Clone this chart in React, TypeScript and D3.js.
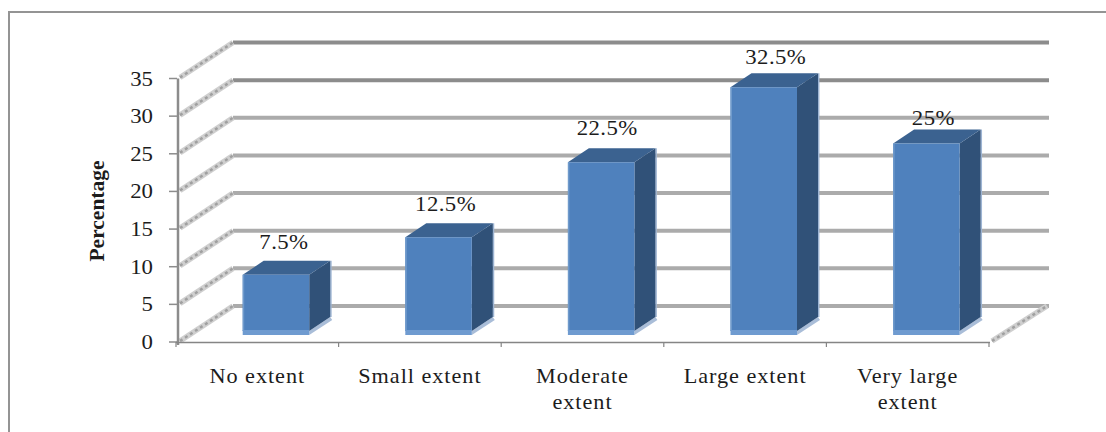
import React from "react";
import * as d3 from "d3";

const categories = [["No extent"], ["Small extent"], ["Moderate", "extent"], ["Large extent"], ["Very large", "extent"]];
const percentages = [7.5, 12.5, 22.5, 32.5, 25];
const valueLabels = ["7.5%", "12.5%", "22.5%", "32.5%", "25%"];
const axisTicks = [0, 5, 10, 15, 20, 25, 30, 35];

const WIDTH = 1106;
const HEIGHT = 432;
const SERIF = '"Liberation Serif", "Times New Roman", serif';
const TEXT_STRETCH = 1.06;

// 3-D projection of the chart box: how far the back wall sits from the front plane.
const WALL_DX = 55;
const WALL_DY = -36;
const BAR_DX = 21;
const BAR_DY = -14;
const BAR_WIDTH = 66.5;
const BAR_LEFT_INSET = 66.7;

const y = d3.scaleLinear().domain([0, 35]).range([342, 78.5]);
const barY = d3.scaleLinear().domain([0, 35]).range([331, 68.5]);
const x = d3
  .scaleBand<number>()
  .domain(categories.map((_, i) => i))
  .range([176, 989]);

const poly = (pts: [number, number][]) => (d3.line()(pts) as string) + "Z";

function StretchedText(props: {
  x: number;
  y: number;
  size?: number;
  anchor?: string;
  spacing?: number;
  children: React.ReactNode;
}) {
  const { size = 21.5, anchor = "middle", spacing = 0, children } = props;
  return (
    <text
      transform={`translate(${props.x},${props.y}) scale(${TEXT_STRETCH},1)`}
      fontFamily={SERIF}
      fontSize={size}
      textAnchor={anchor}
      letterSpacing={spacing}
      fill="#1c1c1c"
    >
      {children}
    </text>
  );
}

// Side-wall segment: pale band with a dark dashed hatch on top.
function Hatch({ x1, y1, x2, y2 }: { x1: number; y1: number; x2: number; y2: number }) {
  return (
    <g fill="none">
      <line x1={x1} y1={y1} x2={x2} y2={y2} stroke="#cfcfcf" strokeWidth={5.5} />
      <line x1={x1} y1={y1} x2={x2} y2={y2} stroke="#a0a0a0" strokeWidth={2.5} strokeDasharray="3 3" />
    </g>
  );
}

export default function App() {
  const labelNudge: [number, number][] = [
    [8, -12],
    [7, -12],
    [6, -13],
    [12, -9],
    [7, -5],
  ];
  const right = x.range()[1];
  return (
    <svg
      width={WIDTH}
      height={HEIGHT}
      viewBox={`0 0 ${WIDTH} ${HEIGHT}`}
      style={{ position: "absolute", left: 0, top: 0, background: "#fff" }}
    >
      {/* outer frame: only the top and left edges are present */}
      <path d={`M9 ${HEIGHT}V12H${WIDTH}`} fill="none" stroke="#949494" strokeWidth={2} />

      {/* back wall gridlines */}
      {axisTicks.map((t) => (
        <line
          key={t}
          x1={178 + WALL_DX}
          x2={1049}
          y1={y(t) + WALL_DY}
          y2={y(t) + WALL_DY}
          stroke={t >= 30 ? "#8c8c8c" : "#ababab"}
          strokeWidth={4}
        />
      ))}

      {/* side wall and floor edges */}
      {axisTicks.map((t) => (
        <Hatch key={t} x1={180} y1={y(t) - 1} x2={178 + WALL_DX} y2={y(t) + WALL_DY} />
      ))}
      <Hatch x1={right + 3} y1={y(0) - 1} x2={1047} y2={y(0) + WALL_DY} />

      {/* value axis */}
      <line x1={178} x2={178} y1={y(35)} y2={y(0) + 3} stroke="#8c8c8c" strokeWidth={2.5} />
      {axisTicks.map((t) => (
        <g key={t}>
          <line x1={169} x2={177} y1={y(t)} y2={y(t)} stroke="#8c8c8c" strokeWidth={1.5} />
          <StretchedText x={153} y={y(t) + 7} anchor="end">
            {t}
          </StretchedText>
        </g>
      ))}
      <text
        transform="translate(104,211) rotate(-90)"
        fontFamily={SERIF}
        fontSize={21.5}
        fontWeight="bold"
        textAnchor="middle"
        fill="#1c1c1c"
      >
        Percentage
      </text>

      {/* category axis */}
      <line x1={176} x2={right + 1} y1={y(0) + 0.5} y2={y(0) + 0.5} stroke="#858585" strokeWidth={1.5} />
      {[...categories.map((_, i) => x(i) as number), right].map((px) => (
        <line key={px} x1={px} x2={px} y1={y(0)} y2={y(0) + 5} stroke="#858585" strokeWidth={1.2} />
      ))}

      {/* bars: side, top, front, then the lit edges */}
      {percentages.map((v, i) => {
        const x0 = (x(i) as number) + BAR_LEFT_INSET;
        const x1 = x0 + BAR_WIDTH;
        const top = barY(v);
        const bottom = barY(0);
        return (
          <g key={i}>
            <path
              d={poly([
                [x1, bottom + 4],
                [x1 + BAR_DX + 2, bottom + BAR_DY + 3],
                [x1 + BAR_DX, bottom + BAR_DY],
                [x1, bottom],
              ])}
              fill="#a9bdd8"
            />
            <line
              x1={x1 + BAR_DX + 0.7}
              x2={x1 + BAR_DX + 0.7}
              y1={top + BAR_DY}
              y2={bottom + BAR_DY}
              stroke="#9db4d3"
              strokeWidth={1.5}
            />
            <path
              d={poly([
                [x1, top],
                [x1 + BAR_DX, top + BAR_DY],
                [x1 + BAR_DX, bottom + BAR_DY],
                [x1, bottom],
              ])}
              fill="#305178"
            />
            <path
              d={poly([
                [x0, top],
                [x0 + BAR_DX, top + BAR_DY],
                [x1 + BAR_DX, top + BAR_DY],
                [x1, top],
              ])}
              fill="#3b6290"
            />
            <rect x={x0} y={top} width={BAR_WIDTH} height={bottom - top} fill="#4f81bd" />
            <rect x={x0} y={top} width={1.5} height={bottom - top} fill="#6f9acb" />
            <rect x={x0} y={bottom - 1} width={BAR_WIDTH} height={5} fill="#6f9bd0" />
          </g>
        );
      })}

      {/* value labels */}
      {percentages.map((v, i) => {
        const cx = (x(i) as number) + BAR_LEFT_INSET + BAR_WIDTH / 2;
        return (
          <StretchedText
            key={i}
            x={cx + labelNudge[i][0]}
            y={barY(v) + BAR_DY + labelNudge[i][1]}
            spacing={0.4}
          >
            {valueLabels[i]}
          </StretchedText>
        );
      })}

      {/* category labels */}
      {categories.map((lines, i) =>
        lines.map((line, j) => (
          <StretchedText
            key={line}
            x={(x(i) as number) + x.bandwidth() / 2}
            y={383 + j * 26}
            size={21}
            spacing={0.9}
          >
            {line}
          </StretchedText>
        ))
      )}
    </svg>
  );
}
